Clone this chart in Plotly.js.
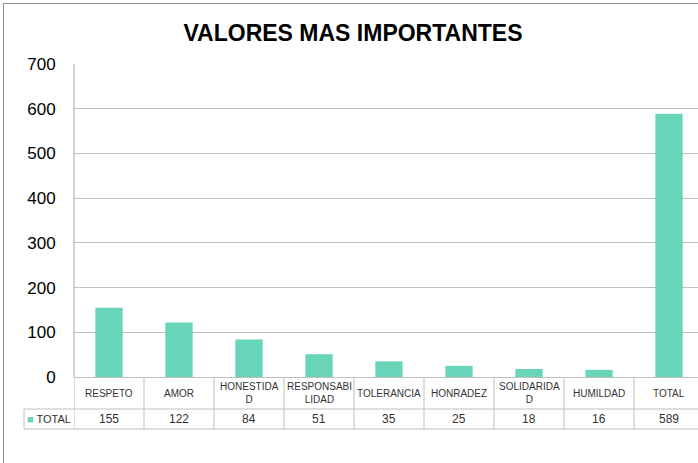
<!DOCTYPE html>
<html>
<head>
<meta charset="utf-8">
<script src="https://cdn.plot.ly/plotly-3.0.1.min.js"></script>
<style>
html,body{margin:0;padding:0;overflow:hidden;background:#fff;width:698px;height:463px;}
#chart{position:absolute;left:0;top:0;}
#frame{position:absolute;left:3px;top:3px;width:900px;height:900px;border:1px solid #8c8c8c;pointer-events:none;}
</style>
</head>
<body>
<div id="chart"></div>
<div id="frame"></div>
<script>
// ---- data ----
const categories = ["RESPETO","AMOR","HONESTIDAD","RESPONSABILIDAD","TOLERANCIA","HONRADEZ","SOLIDARIDAD","HUMILDAD","TOTAL"];
const tableLabels = ["RESPETO","AMOR","HONESTIDA<br>D","RESPONSABI<br>LIDAD","TOLERANCIA","HONRADEZ","SOLIDARIDA<br>D","HUMILDAD","TOTAL"];
const totals = [155,122,84,51,35,25,18,16,589];
const seriesName = "TOTAL";
const yTicks = [0,100,200,300,400,500,600,700];
const chartTitle = "VALORES MAS IMPORTANTES";

// ---- layout helpers (pixels -> paper) ----
const W = 706, H = 463;
const mL = 74, mR = 2, mT = 64, mB = 86;
const plotH = H - mT - mB, plotW = W - mL - mR;
const py = p => (H - mB - p) / plotH;        // pixel y -> paper y
const px = p => (p - mL) / plotW;            // pixel x -> paper x
const rowCatMid = py(393), rowSplit = py(409), rowValMid = py(419), rowBottom = py(429);
const legendLeft = px(24);
const barColor = "#68D4B8";
const lineColor = "#BFBFBF";
const textColor = "#333333";

const shapes = [];
// vertical separators in table
for (let i = 0; i <= categories.length; i++) {
  shapes.push({type:"line", xref:"x", yref:"paper", x0:i-0.5, x1:i-0.5, y0:0, y1:rowBottom,
    line:{color:lineColor, width:1}});
}
// horizontal table lines
shapes.push({type:"line", xref:"paper", yref:"paper", x0:legendLeft, x1:1, y0:rowSplit, y1:rowSplit, line:{color:lineColor, width:1}});
shapes.push({type:"line", xref:"paper", yref:"paper", x0:legendLeft, x1:1, y0:rowBottom, y1:rowBottom, line:{color:lineColor, width:1}});
shapes.push({type:"line", xref:"paper", yref:"paper", x0:legendLeft, x1:legendLeft, y0:rowSplit, y1:rowBottom, line:{color:lineColor, width:1}});
// left axis line
shapes.push({type:"line", xref:"paper", yref:"paper", x0:0, x1:0, y0:0, y1:1, line:{color:"#A6A6A6", width:1}});

const annotations = [];
categories.forEach((c, i) => {
  annotations.push({xref:"x", yref:"paper", x:i, y:rowCatMid, text:tableLabels[i], showarrow:false,
    xanchor:"center", yanchor:"middle", font:{family:"Liberation Sans, Arial, sans-serif", size:10, color:textColor}});
  annotations.push({xref:"x", yref:"paper", x:i, y:rowValMid, text:String(totals[i]), showarrow:false,
    xanchor:"center", yanchor:"middle", font:{family:"Liberation Sans, Arial, sans-serif", size:12, color:textColor}});
});
annotations.push({xref:"paper", yref:"paper", x:(legendLeft)/2, y:rowValMid,
  text:'<span style="color:'+barColor+'">■</span> ' + seriesName, showarrow:false,
  xanchor:"center", yanchor:"middle", font:{family:"Liberation Sans, Arial, sans-serif", size:11, color:textColor}});

const trace = {
  type:"bar", x:categories, y:totals, name:seriesName,
  marker:{color:barColor}, hoverinfo:"x+y"
};

const layout = {
  width:W, height:H,
  margin:{l:mL, r:mR, t:mT, b:mB, pad:0},
  paper_bgcolor:"#ffffff", plot_bgcolor:"#ffffff",
  showlegend:false,
  bargap:0.61,
  title:{text:"<b>"+chartTitle+"</b>", x:0.5, xref:"container", xanchor:"center",
    y:1 - 33/H, yref:"container", yanchor:"middle",
    font:{family:"Liberation Sans, Arial, sans-serif", size:23, color:"#000000"}},
  xaxis:{type:"category", range:[-0.5, categories.length-0.5], showticklabels:false,
    showgrid:false, zeroline:false, showline:false, ticks:"", fixedrange:true},
  yaxis:{range:[0,700], tickvals:yTicks, ticktext:yTicks.map(String),
    showgrid:true, gridcolor:lineColor, gridwidth:1, zeroline:true, zerolinecolor:lineColor, zerolinewidth:1,
    showline:false, ticks:"outside", ticklen:14, tickcolor:"rgba(0,0,0,0)",
    tickfont:{family:"Liberation Sans, Arial, sans-serif", size:17, color:"#000000"}, fixedrange:true},
  shapes:shapes,
  annotations:annotations
};

Plotly.newPlot("chart", [trace], layout, {displayModeBar:false, staticPlot:true});
</script>
</body>
</html>
